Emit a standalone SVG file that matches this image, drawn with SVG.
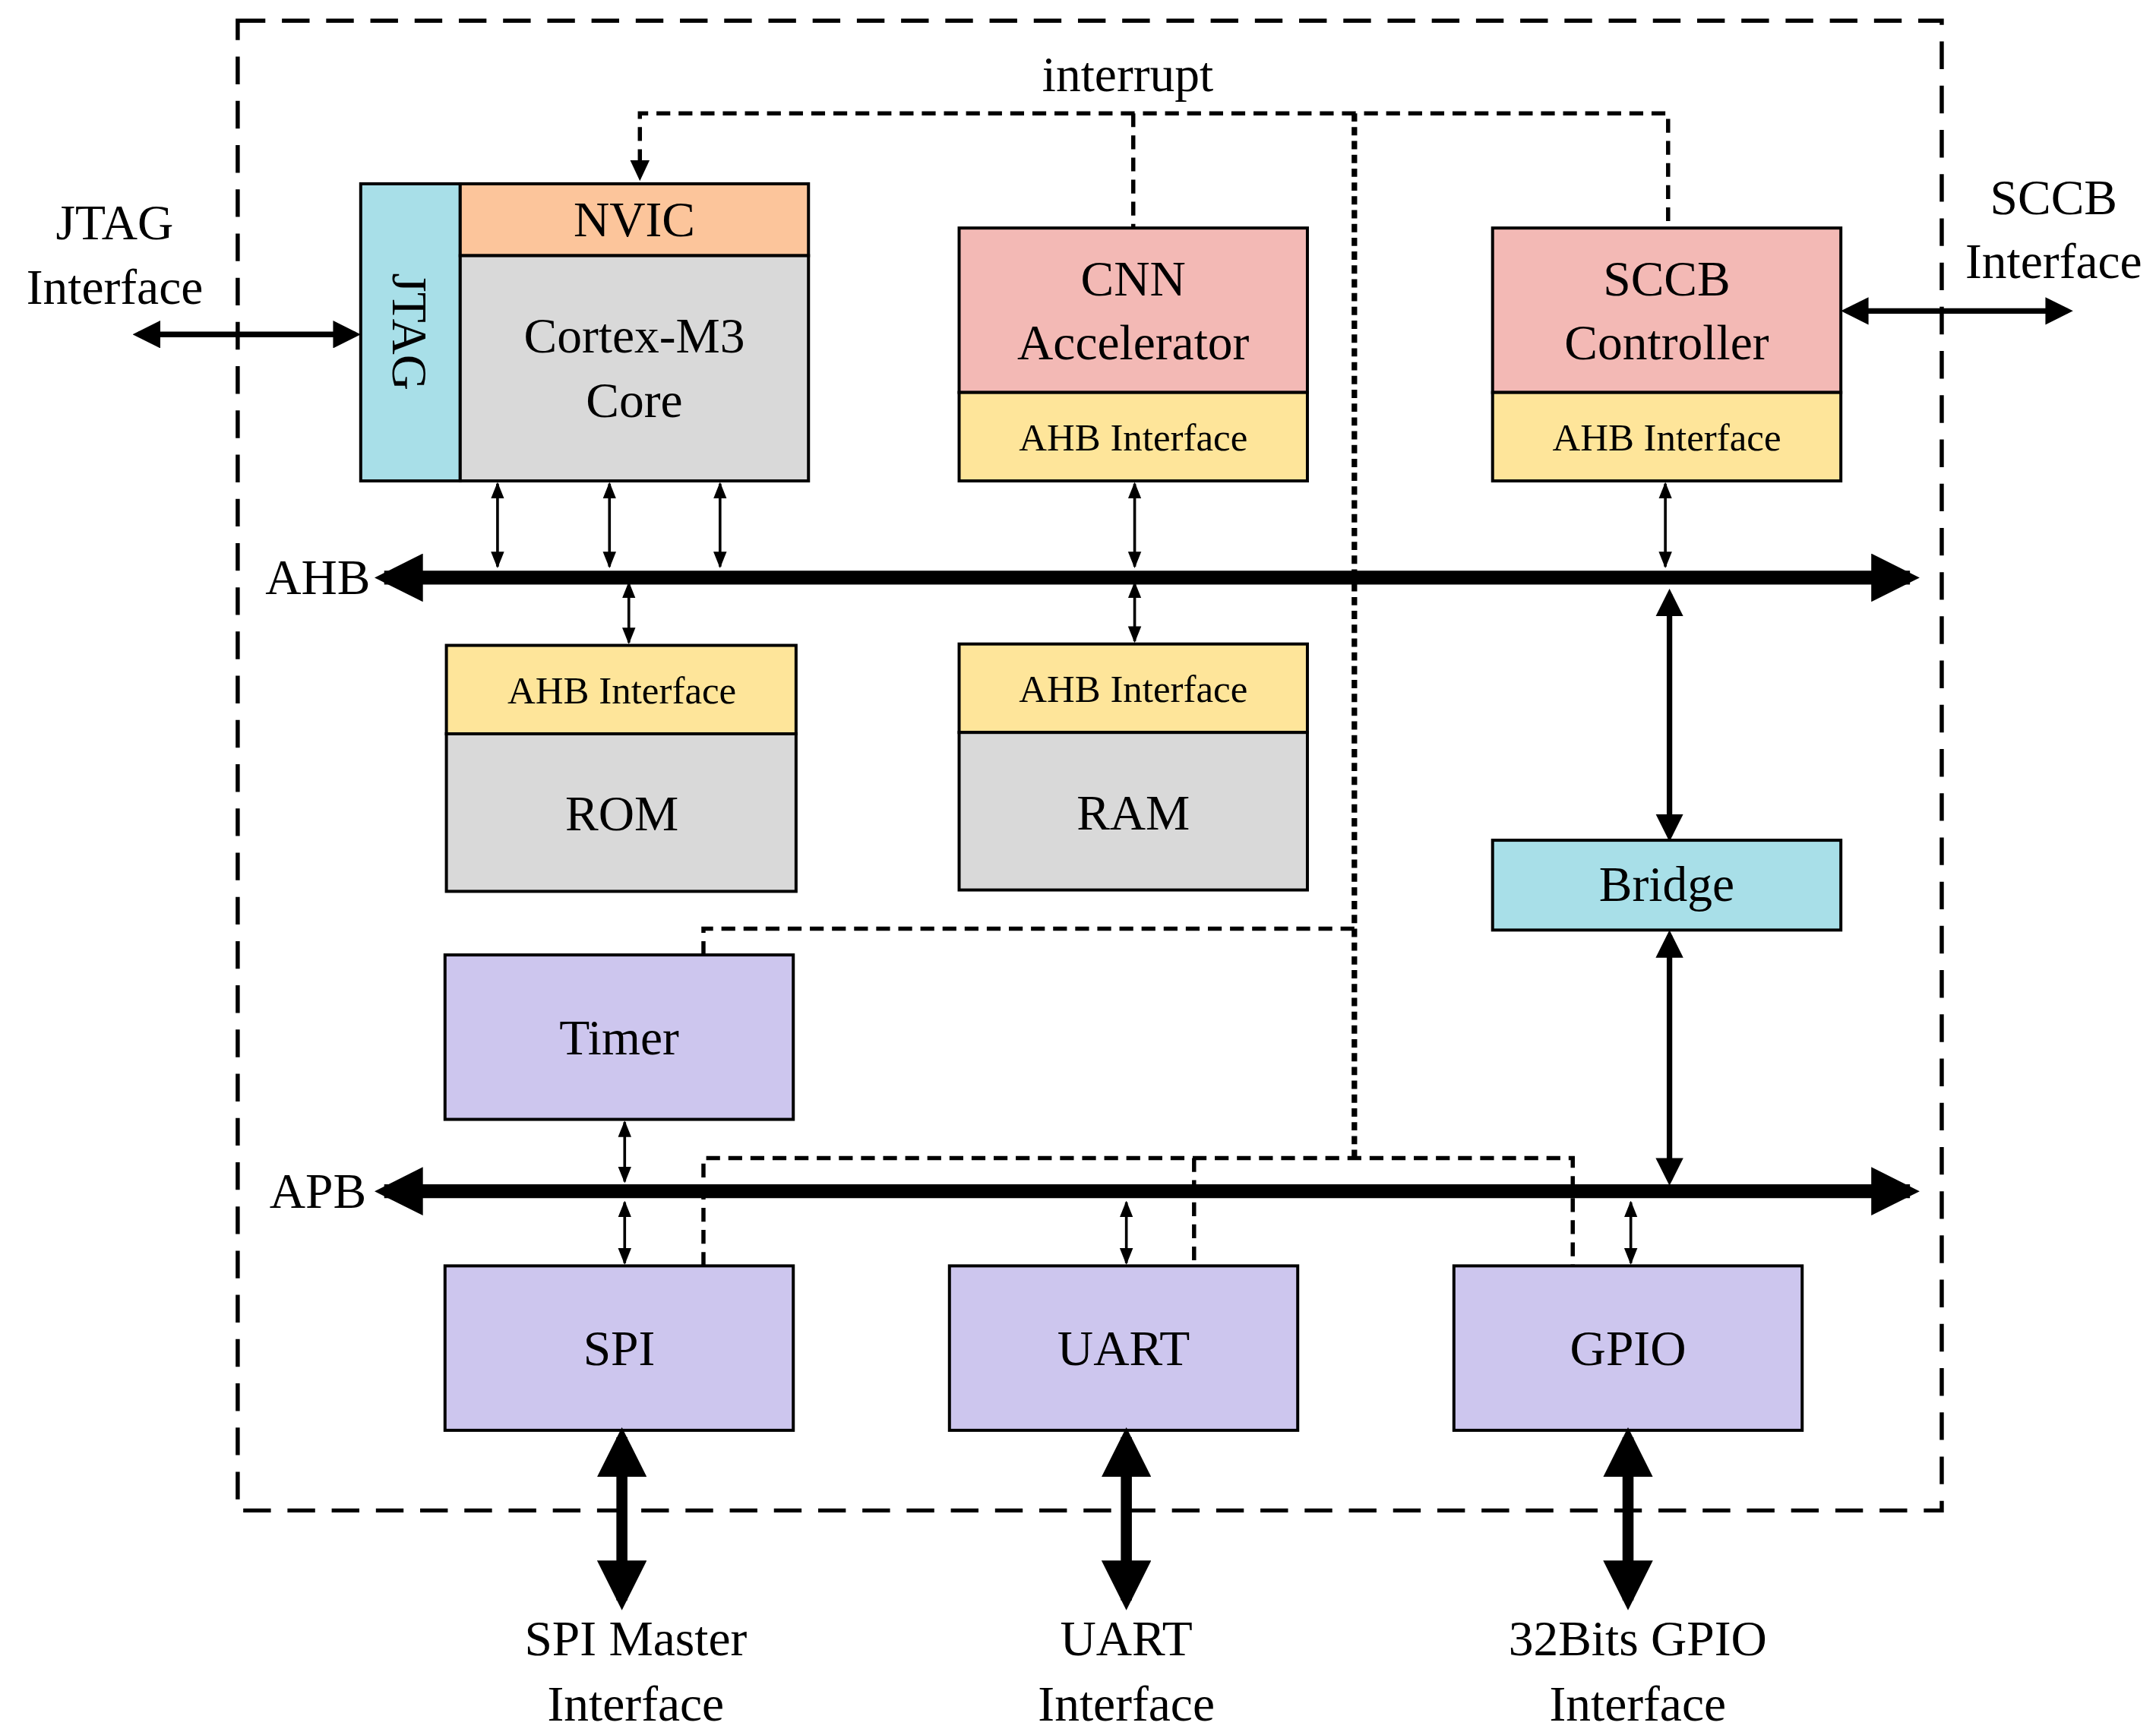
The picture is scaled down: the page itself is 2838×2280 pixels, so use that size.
<svg xmlns="http://www.w3.org/2000/svg" width="2838" height="2280" viewBox="0 0 2838 2280">
<defs>
<style>
.b{stroke:#000;stroke-width:2.2}
.t{font-family:"Liberation Serif","DejaVu Serif",serif;font-size:36px;text-anchor:middle;fill:#000}
.s{font-family:"Liberation Serif","DejaVu Serif",serif;font-size:28px;text-anchor:middle;fill:#000}
.gray{fill:#d9d9d9}.cy{fill:#a8dfe8}.or{fill:#fcc59b}.pk{fill:#f3b9b5}.ye{fill:#fee59a}.pu{fill:#cdc6ee}
.thin{stroke:#000;stroke-width:2;fill:none;marker-start:url(#sa);marker-end:url(#sa)}
.bus{stroke:#000;stroke-width:10;fill:none;marker-start:url(#ba);marker-end:url(#ba)}
.mid{stroke:#000;stroke-width:4;fill:none;marker-start:url(#ma);marker-end:url(#ma)}
.io{stroke:#000;stroke-width:8;fill:none;marker-start:url(#ia);marker-end:url(#ia)}
.d{stroke:#000;stroke-width:3;fill:none;stroke-dasharray:10,6}
.dt{stroke:#000;stroke-width:4;fill:none;stroke-dasharray:6,4}
</style>
<marker id="sa" viewBox="0 0 10 10" refX="9" refY="5" markerWidth="6" markerHeight="6" orient="auto-start-reverse" markerUnits="strokeWidth"><path d="M0,1 L10,5 L0,9 z"/></marker>
<marker id="ba" viewBox="0 0 10 10" refX="8" refY="5" markerWidth="3.5" markerHeight="3.5" orient="auto-start-reverse" markerUnits="strokeWidth"><path d="M0,0 L10,5 L0,10 z"/></marker>
<marker id="ma" viewBox="0 0 10 10" refX="8" refY="5" markerWidth="5" markerHeight="5" orient="auto-start-reverse" markerUnits="strokeWidth"><path d="M0,0 L10,5 L0,10 z"/></marker>
<marker id="ia" viewBox="0 0 10 10" refX="8" refY="5" markerWidth="4.5" markerHeight="4.5" orient="auto-start-reverse" markerUnits="strokeWidth"><path d="M0,0 L10,5 L0,10 z"/></marker>
</defs>
<rect width="2838" height="2280" fill="#fff"/>
<g transform="scale(1.8192)">
<rect x="172" y="15" width="1233" height="1078" fill="none" stroke="#000" stroke-width="3" stroke-dasharray="20,12"/>
<text class="t" x="816" y="66">interrupt</text>
<g id="cortex">
<rect class="b cy" x="261" y="133" width="72" height="215"/>
<rect class="b or" x="333" y="133" width="252" height="52"/>
<rect class="b gray" x="333" y="185" width="252" height="163"/>
<text class="t" x="459" y="171">NVIC</text>
<text class="t" x="459" y="255">Cortex-M3</text>
<text class="t" x="459" y="302">Core</text>
<text class="t" transform="translate(284,240) rotate(90)">JTAG</text>
</g>
<g id="cnn">
<rect class="b pk" x="694" y="165" width="252" height="119"/>
<rect class="b ye" x="694" y="284" width="252" height="64"/>
<text class="t" x="820" y="214">CNN</text>
<text class="t" x="820" y="260">Accelerator</text>
<text class="s" x="820" y="326">AHB Interface</text>
</g>
<g id="sccb">
<rect class="b pk" x="1080" y="165" width="252" height="119"/>
<rect class="b ye" x="1080" y="284" width="252" height="64"/>
<text class="t" x="1206" y="214">SCCB</text>
<text class="t" x="1206" y="260">Controller</text>
<text class="s" x="1206" y="326">AHB Interface</text>
</g>
<g id="rom">
<rect class="b ye" x="323" y="467" width="253" height="64"/>
<rect class="b gray" x="323" y="531" width="253" height="114"/>
<text class="s" x="450" y="509">AHB Interface</text>
<text class="t" x="450" y="601">ROM</text>
</g>
<g id="ram">
<rect class="b ye" x="694" y="466" width="252" height="64"/>
<rect class="b gray" x="694" y="530" width="252" height="114"/>
<text class="s" x="820" y="508">AHB Interface</text>
<text class="t" x="820" y="600">RAM</text>
</g>
<g id="bridge"><rect class="b cy" x="1080" y="608" width="252" height="65"/><text class="t" x="1206" y="652">Bridge</text></g>
<g id="timer"><rect class="b pu" x="322" y="691" width="252" height="119"/><text class="t" x="448" y="763">Timer</text></g>
<g id="spi"><rect class="b pu" x="322" y="916" width="252" height="119"/><text class="t" x="448" y="988">SPI</text></g>
<g id="uart"><rect class="b pu" x="687" y="916" width="252" height="119"/><text class="t" x="813" y="988">UART</text></g>
<g id="gpio"><rect class="b pu" x="1052" y="916" width="252" height="119"/><text class="t" x="1178" y="988">GPIO</text></g>
<g id="labels">
<text class="t" x="83" y="173">JTAG</text><text class="t" x="83" y="220">Interface</text>
<text class="t" x="1486" y="155">SCCB</text><text class="t" x="1486" y="201">Interface</text>
<text class="t" x="230" y="430">AHB</text><text class="t" x="230" y="874">APB</text>
<text class="t" x="460" y="1198">SPI Master</text><text class="t" x="460" y="1245">Interface</text>
<text class="t" x="815" y="1198">UART</text><text class="t" x="815" y="1245">Interface</text>
<text class="t" x="1185" y="1198">32Bits GPIO</text><text class="t" x="1185" y="1245">Interface</text>
</g>
<g id="connectors">
<line class="bus" x1="278" y1="418" x2="1382" y2="418"/>
<line class="bus" x1="278" y1="862" x2="1382" y2="862"/>
<line class="mid" x1="100" y1="242" x2="257" y2="242"/>
<line class="mid" x1="1336" y1="225" x2="1496" y2="225"/>
<line class="io" x1="450" y1="1040" x2="450" y2="1158"/>
<line class="io" x1="815" y1="1040" x2="815" y2="1158"/>
<line class="io" x1="1178" y1="1040" x2="1178" y2="1158"/>
<line class="mid" x1="1208" y1="430" x2="1208" y2="605"/>
<line class="mid" x1="1208" y1="677" x2="1208" y2="854"/>
<line class="thin" x1="360" y1="350" x2="360" y2="410"/>
<line class="thin" x1="441" y1="350" x2="441" y2="410"/>
<line class="thin" x1="521" y1="350" x2="521" y2="410"/>
<line class="thin" x1="455" y1="422" x2="455" y2="465"/>
<line class="thin" x1="821" y1="350" x2="821" y2="410"/>
<line class="thin" x1="821" y1="422" x2="821" y2="464"/>
<line class="thin" x1="1205" y1="350" x2="1205" y2="410"/>
<line class="thin" x1="452" y1="812" x2="452" y2="855"/>
<line class="thin" x1="452" y1="870" x2="452" y2="914"/>
<line class="thin" x1="815" y1="870" x2="815" y2="914"/>
<line class="thin" x1="1180" y1="870" x2="1180" y2="914"/>
<path class="d" d="M463,118 V82 H1207 V165"/>
<path d="M456,116 L470,116 L463,131 z"/>
<path class="d" d="M820,82 V165"/>
<path class="dt" d="M980,82 V838"/>
<path class="d" d="M509,691 V672 H980"/>
<path class="d" d="M509,916 V838 H1138 V916"/>
<path class="d" d="M864,838 V916"/>
</g>
</g>
</svg>
